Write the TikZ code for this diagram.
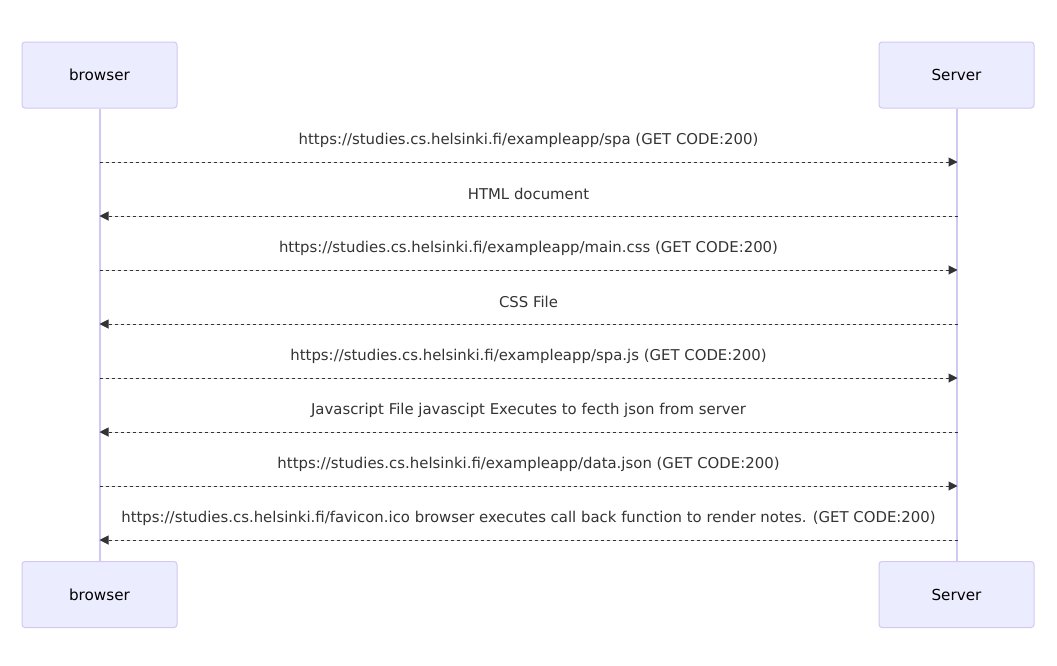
\documentclass[tikz,border=0pt]{standalone}
\usepackage{fontspec}
\setmainfont{DejaVu Sans}
\usepackage{tikz}
\usetikzlibrary{arrows.meta, positioning, calc}

\definecolor{actorfill}{HTML}{ECECFF}
\definecolor{actorline}{HTML}{D2C8F2}
\definecolor{msgcolor}{HTML}{333333}

\begin{document}
\begin{tikzpicture}[
    x=1pt, y=-1pt,
    >={Triangle[length=9pt, width=9pt]},
    actor/.style={rectangle, draw=actorline, line width=1pt, rounded corners=3pt, fill=actorfill,
                  minimum width=155pt, minimum height=66pt, align=center,
                  font=\fontsize{15.2}{18}\selectfont, text=black},
    msg/.style={draw=msgcolor, fill=msgcolor, line width=1pt, dash pattern=on 3pt off 3pt},
    msglabel/.style={font=\fontsize{14.9}{17}\selectfont, text=msgcolor, inner sep=1pt, yshift=22pt}
]
\useasboundingbox (0,0) rectangle (1057,665);
\node[actor] (browser) at (99.5,75) {browser};
\node[actor] (server) at (956.5,75) {Server};
\node[actor] (browserb) at (99.5,594.5) {browser};
\node[actor] (serverb) at (956.5,594.5) {Server};
\draw[actorline, line width=2pt] (browser.south) -- (browserb.north);
\draw[actorline, line width=2pt] (server.south) -- (serverb.north);
\foreach \i/\y in {1/162,2/216,3/270,4/324,5/378,6/432,7/486,8/540} {
    \coordinate (b\i) at (99.5,\y);
    \coordinate (s\i) at (957.5,\y);
}
\draw[msg, ->] (b1) -- node[msglabel]{https://studies.cs.helsinki.fi/exampleapp/spa (GET CODE:200)} (s1);
\draw[msg, ->] (s2) -- node[msglabel]{HTML document} (b2);
\draw[msg, ->] (b3) -- node[msglabel]{https://studies.cs.helsinki.fi/exampleapp/main.css (GET CODE:200)} (s3);
\draw[msg, ->] (s4) -- node[msglabel]{CSS File} (b4);
\draw[msg, ->] (b5) -- node[msglabel]{https://studies.cs.helsinki.fi/exampleapp/spa.js (GET CODE:200)} (s5);
\draw[msg, ->] (s6) -- node[msglabel]{Javascript File javascipt Executes to fecth json from server} (b6);
\draw[msg, ->] (b7) -- node[msglabel]{https://studies.cs.helsinki.fi/exampleapp/data.json (GET CODE:200)} (s7);
\draw[msg, ->] (s8) -- node[msglabel]{https://studies.cs.helsinki.fi/favicon.ico browser executes call back function to render notes. (GET CODE:200)} (b8);
\end{tikzpicture}
\end{document}
